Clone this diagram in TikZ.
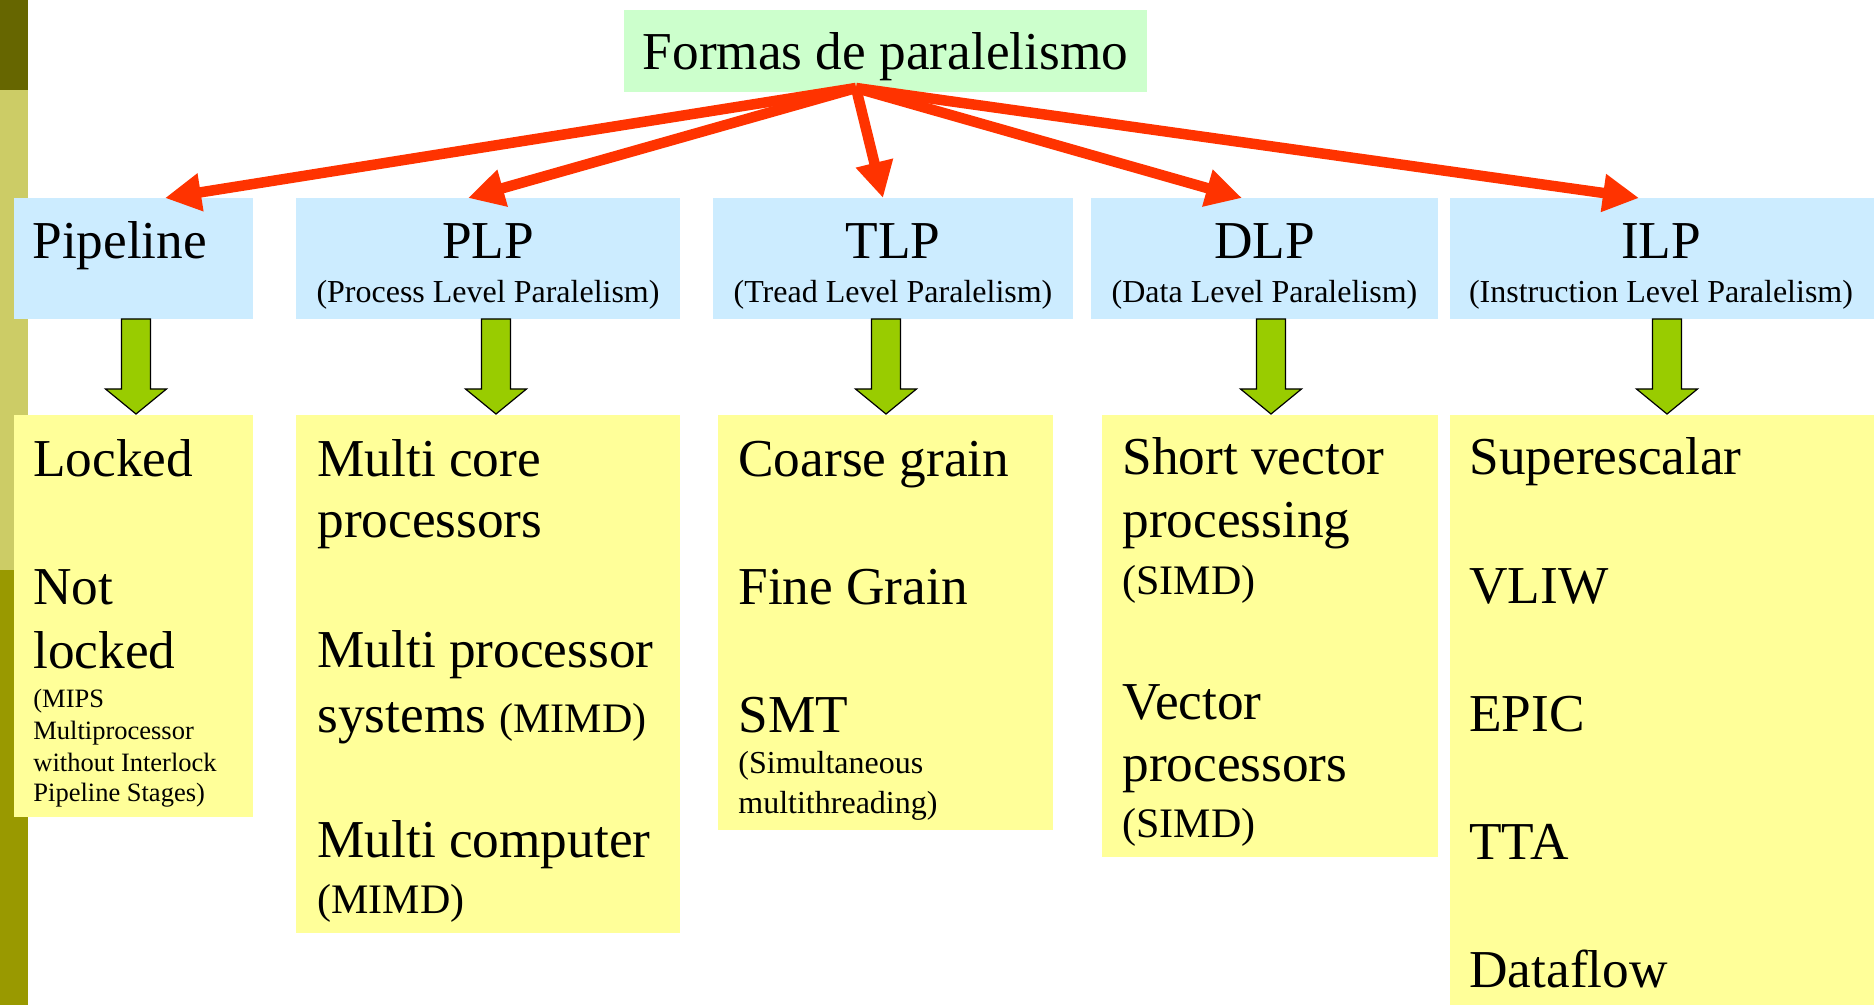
\documentclass[tikz,border=0pt]{standalone}
\usepackage{fontspec}
\setmainfont{Liberation Serif}
\usetikzlibrary{arrows.meta,calc}
\definecolor{titlegreen}{HTML}{CCFFCC}
\definecolor{hdrblue}{HTML}{CCECFF}
\definecolor{itemyellow}{HTML}{FFFF99}
\definecolor{arrowred}{HTML}{FF3300}
\definecolor{arrowgreen}{HTML}{99CC00}
\definecolor{barA}{HTML}{666600}
\definecolor{barB}{HTML}{CCCC66}
\definecolor{barC}{HTML}{999900}

\begin{document}
\begin{tikzpicture}[x=0.5pt,y=-0.5pt,
  panel/.style={anchor=north west, inner sep=0, outer sep=0, draw=none},
  hdr/.style={panel, fill=hdrblue, minimum height=60.5pt},
  itembox/.style={panel, fill=itemyellow},
  big/.style={anchor=base west, inner sep=0, font=\fontsize{26.65}{32}\selectfont},
  bigc/.style={big, anchor=base},
  subc/.style={anchor=base, inner sep=0, font=\fontsize{16}{19}\selectfont},
  mid/.style={anchor=base west, inner sep=0, font=\fontsize{21}{25}\selectfont},
  note/.style={anchor=base west, inner sep=0, font=\fontsize{16}{19}\selectfont},
  tiny/.style={anchor=base west, inner sep=0, font=\fontsize{13.25}{16}\selectfont},
  redarrow/.style={draw=arrowred, line width=5.25pt,
    -{Triangle[length=18pt,width=18pt]}},
  gdown/.pic={\draw[fill=arrowgreen, draw=black, line width=0.6pt]
    (-14.5,0) -- (-14.5,70) -- (-30.5,70) -- (0,95) -- (30.5,70)
    -- (14.5,70) -- (14.5,0) -- cycle;}
]
\useasboundingbox (0,0) rectangle (1874,1005);

% side bar
\fill[barA] (0,0) rectangle (28,90);
\fill[barB] (0,90) rectangle (28,570);
\fill[barC] (0,570) rectangle (28,1005);

% title
\node[panel, fill=titlegreen, minimum width=261.5pt, minimum height=41pt]
  (title) at (624,10) {};
\node[bigc] (titleT) at (885.5,70) {Formas de paralelismo};

% header boxes
\node[hdr, minimum width=119.5pt] (pipeH) at (14,198) {};
\node[hdr, minimum width=192pt]   (plpH)  at (296,198) {};
\node[hdr, minimum width=180pt]   (tlpH)  at (713,198) {};
\node[hdr, minimum width=173.5pt] (dlpH)  at (1091,198) {};
\node[hdr, minimum width=212pt]   (ilpH)  at (1450,198) {};

\node[big]  (pipeT) at (32,259) {Pipeline};
\node[bigc] (plpT)  at (488,259) {PLP};
\node[subc] (plpS)  at (488,303) {(Process Level Paralelism)};
\node[bigc] (tlpT)  at (893,259) {TLP};
\node[subc] (tlpS)  at (893,303) {(Tread Level Paralelism)};
\node[bigc] (dlpT)  at (1264.5,259) {DLP};
\node[subc] (dlpS)  at (1264.5,303) {(Data Level Paralelism)};
\node[bigc] (ilpT)  at (1661,259) {ILP};
\node[subc] (ilpS)  at (1661,303) {(Instruction Level Paralelism)};

% item boxes
\node[itembox, minimum width=119.5pt, minimum height=201pt]   (pipeB) at (14,415) {};
\node[itembox, minimum width=192pt,   minimum height=259pt]   (plpB)  at (296,415) {};
\node[itembox, minimum width=167.5pt, minimum height=207.5pt] (tlpB)  at (718,415) {};
\node[itembox, minimum width=168pt,   minimum height=221pt]   (dlpB)  at (1102,415) {};
\node[itembox, minimum width=212pt,   minimum height=295pt]   (ilpB)  at (1450,415) {};

% Pipeline items
\node[big]  (p1) at (33,476) {Locked};
\node[big]  (p2) at (33,604) {Not};
\node[big]  (p3) at (33,668) {locked};
\node[tiny] (p4) at (33,707) {(MIPS};
\node[tiny] (p5) at (33,739) {Multiprocessor};
\node[tiny] (p6) at (33,771) {without Interlock};
\node[tiny] (p7) at (33,801) {Pipeline Stages)};

% PLP items
\node[big] (q1) at (317,476) {Multi core};
\node[big] (q2) at (317,538) {processors};
\node[big] (q3) at (317,667) {Multi processor};
\node[big] (q4) at (317,732) {systems {\fontsize{21}{25}\selectfont(MIMD)}};
\node[big] (q5) at (317,857) {Multi computer};
\node[mid] (q6) at (317,913) {(MIMD)};

% TLP items
\node[big]  (r1) at (738,476) {Coarse grain};
\node[big]  (r2) at (738,604) {Fine Grain};
\node[big]  (r3) at (738,732) {SMT};
\node[note] (r4) at (738,773) {(Simultaneous};
\node[note] (r5) at (738,813) {multithreading)};

% DLP items
\node[big] (s1) at (1122,474) {Short vector};
\node[big] (s2) at (1122,538) {processing};
\node[mid] (s3) at (1122,594) {(SIMD)};
\node[big] (s4) at (1122,719) {Vector};
\node[big] (s5) at (1122,781.5) {processors};
\node[mid] (s6) at (1122,837) {(SIMD)};

% ILP items
\node[big] (u1) at (1469,474) {Superescalar};
\node[big] (u2) at (1469,603) {VLIW};
\node[big] (u3) at (1469,731) {EPIC};
\node[big] (u4) at (1469,859) {TTA};
\node[big] (u5) at (1469,987) {Dataflow};

% red arrows from the title to each header
\coordinate (src) at ($(title.south)+(-29.5,-4)$);
\draw[redarrow] (src) -- ($(pipeH.north west)+(151,0)$);
\draw[redarrow] (src) -- ($(plpH.north west)+(172,0)$);
\draw[redarrow] (src) -- ($(tlpH.north west)+(170,0)$);
\draw[redarrow] (src) -- ($(dlpH.north west)+(151,0)$);
\draw[redarrow] (src) -- ($(ilpH.north west)+(189,0)$);

% green block arrows from each header to its items
\pic at (136,319) {gdown};
\pic at (496,319) {gdown};
\pic at (886,319) {gdown};
\pic at (1271,319) {gdown};
\pic at (1667,319) {gdown};
\end{tikzpicture}
\end{document}
